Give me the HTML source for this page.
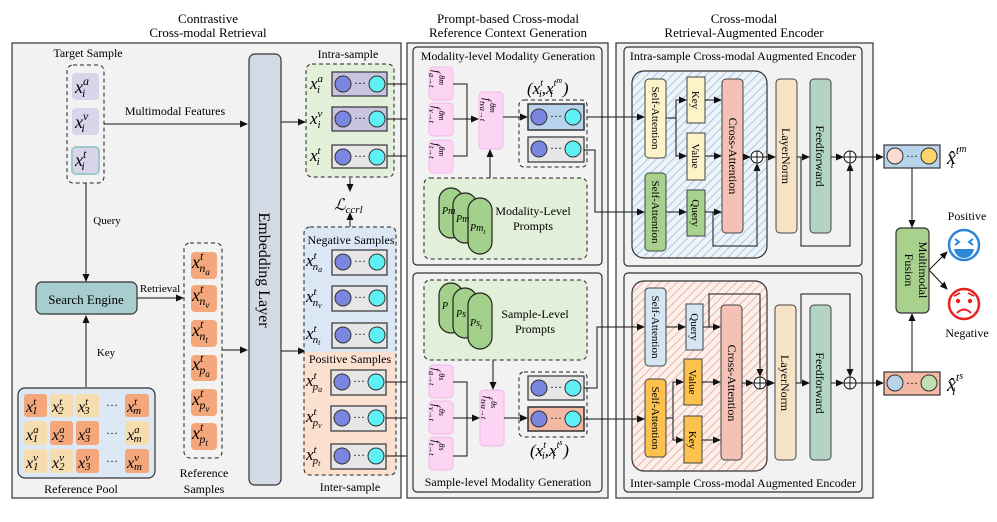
<!DOCTYPE html>
<html><head><meta charset="utf-8"><style>
html,body{margin:0;padding:0;background:#fff;}
svg{display:block;font-family:"Liberation Serif",serif;}
.m{font-style:italic;}
</style></head><body>
<svg width="997" height="522" viewBox="0 0 997 522" xmlns="http://www.w3.org/2000/svg">
<defs>
<marker id="a" markerWidth="8" markerHeight="8" refX="7" refY="4" orient="auto" markerUnits="userSpaceOnUse"><path d="M0,0.5 L8,4 L0,7.5z" fill="#111"/></marker>
<pattern id="hb" width="6" height="6" patternUnits="userSpaceOnUse" patternTransform="rotate(45)"><rect width="6" height="6" fill="#eef3f8"/><line x1="0" y1="0" x2="0" y2="6" stroke="#a9c8e6" stroke-width="2"/></pattern>
<pattern id="hr" width="6" height="6" patternUnits="userSpaceOnUse" patternTransform="rotate(45)"><rect width="6" height="6" fill="#faf0ec"/><line x1="0" y1="0" x2="0" y2="6" stroke="#f0b3a2" stroke-width="2"/></pattern>
<g id="cc"><circle cx="11" cy="12" r="8" fill="#7b86e0" stroke="#333" stroke-width="1"/><text x="28" y="15" font-size="12" text-anchor="middle">···</text><circle cx="45" cy="12" r="8" fill="#5ff0f5" stroke="#333" stroke-width="1"/></g>
</defs>
<rect width="997" height="522" fill="#fff"/>

<!-- Panel 1 -->
<text x="208" y="23" font-size="13" text-anchor="middle">Contrastive</text>
<text x="208" y="37" font-size="13" text-anchor="middle">Cross-modal Retrieval</text>
<rect x="12" y="43" width="389" height="455" fill="#f2f2f2" stroke="#333" stroke-width="1.2"/>
<text x="88" y="57" font-size="12" text-anchor="middle">Target Sample</text>
<rect x="67" y="65" width="37" height="118" rx="6" fill="none" stroke="#222" stroke-dasharray="4,3"/>
<rect x="72" y="73" width="27" height="27" rx="4" fill="#d9d4ea"/>
<rect x="72" y="108" width="27" height="27" rx="4" fill="#d9d4ea"/>
<rect x="72" y="147" width="27" height="27" rx="4" fill="#d9d4ea" stroke="#9ccbc9" stroke-width="2"/>
<text x="75" y="93" font-size="18" class="m">x<tspan font-size="12" dy="-8">a</tspan><tspan font-size="12" dx="-7" dy="12">i</tspan></text>
<text x="75" y="128" font-size="18" class="m">x<tspan font-size="12" dy="-8">v</tspan><tspan font-size="12" dx="-7" dy="12">i</tspan></text>
<text x="75" y="166" font-size="18" class="m">x<tspan font-size="12" dy="-8">t</tspan><tspan font-size="12" dx="-5" dy="12">i</tspan></text>
<line x1="104" y1="124" x2="247" y2="124" stroke="#111" marker-end="url(#a)"/>
<text x="175" y="115" font-size="12" text-anchor="middle">Multimodal Features</text>
<line x1="86" y1="183" x2="86" y2="281" stroke="#111" marker-end="url(#a)"/>
<text x="107" y="224" font-size="11" text-anchor="middle">Query</text>
<rect x="36" y="282" width="101" height="32" rx="6" fill="#a8cdcf" stroke="#333" stroke-width="1.2"/>
<text x="86" y="304" font-size="13" text-anchor="middle">Search Engine</text>
<line x1="137" y1="298" x2="183" y2="298" stroke="#111" marker-end="url(#a)"/>
<text x="160" y="292" font-size="11" text-anchor="middle">Retrieval</text>
<line x1="86" y1="387" x2="86" y2="316" stroke="#111" marker-end="url(#a)"/>
<text x="106" y="356" font-size="11" text-anchor="middle">Key</text>
<rect x="18" y="388" width="137" height="90" rx="7" fill="#dce8f4" stroke="#333" stroke-width="1.2"/>
<g font-size="16" class="m">
<rect x="24" y="394" width="23" height="23" rx="3" fill="#f4a77a"/><rect x="50" y="394" width="23" height="23" rx="3" fill="#f6ddb0"/><rect x="76" y="394" width="23" height="23" rx="3" fill="#f6ddb0"/><rect x="125" y="394" width="24" height="23" rx="3" fill="#f4a77a"/>
<rect x="24" y="421" width="23" height="24" rx="3" fill="#f6ddb0"/><rect x="50" y="421" width="23" height="24" rx="3" fill="#f4a77a"/><rect x="76" y="421" width="23" height="24" rx="3" fill="#f4a77a"/><rect x="125" y="421" width="24" height="24" rx="3" fill="#f6ddb0"/>
<rect x="24" y="449" width="23" height="24" rx="3" fill="#f6ddb0"/><rect x="50" y="449" width="23" height="24" rx="3" fill="#f6ddb0"/><rect x="76" y="449" width="23" height="24" rx="3" fill="#f4a77a"/><rect x="125" y="449" width="24" height="24" rx="3" fill="#f4a77a"/>
<text x="26" y="412">x<tspan font-size="11" dy="-7">t</tspan><tspan font-size="11" dx="-4" dy="9">1</tspan></text>
<text x="52" y="412">x<tspan font-size="11" dy="-7">t</tspan><tspan font-size="11" dx="-4" dy="9">2</tspan></text>
<text x="78" y="412">x<tspan font-size="11" dy="-7">t</tspan><tspan font-size="11" dx="-4" dy="9">3</tspan></text>
<text x="127" y="412">x<tspan font-size="11" dy="-7">t</tspan><tspan font-size="11" dx="-4" dy="9">m</tspan></text>
<text x="26" y="440">x<tspan font-size="11" dy="-7">a</tspan><tspan font-size="11" dx="-6" dy="9">1</tspan></text>
<text x="52" y="440">x<tspan font-size="11" dy="-7">a</tspan><tspan font-size="11" dx="-6" dy="9">2</tspan></text>
<text x="78" y="440">x<tspan font-size="11" dy="-7">a</tspan><tspan font-size="11" dx="-6" dy="9">3</tspan></text>
<text x="127" y="440">x<tspan font-size="11" dy="-7">a</tspan><tspan font-size="11" dx="-6" dy="9">m</tspan></text>
<text x="26" y="468">x<tspan font-size="11" dy="-7">v</tspan><tspan font-size="11" dx="-5" dy="9">1</tspan></text>
<text x="52" y="468">x<tspan font-size="11" dy="-7">v</tspan><tspan font-size="11" dx="-5" dy="9">2</tspan></text>
<text x="78" y="468">x<tspan font-size="11" dy="-7">v</tspan><tspan font-size="11" dx="-5" dy="9">3</tspan></text>
<text x="127" y="468">x<tspan font-size="11" dy="-7">v</tspan><tspan font-size="11" dx="-5" dy="9">m</tspan></text>
</g>
<text x="112" y="409" font-size="12" text-anchor="middle">···</text><text x="112" y="437" font-size="12" text-anchor="middle">···</text><text x="112" y="465" font-size="12" text-anchor="middle">···</text>
<text x="81" y="493" font-size="12" text-anchor="middle">Reference Pool</text>
<rect x="184" y="243" width="38" height="215" rx="6" fill="none" stroke="#222" stroke-dasharray="4,3"/>
<g font-size="18" class="m">
<rect x="191" y="252" width="26" height="27" rx="4" fill="#f4a77a"/><rect x="191" y="285" width="26" height="27" rx="4" fill="#f4a77a"/><rect x="191" y="320" width="26" height="27" rx="4" fill="#f4a77a"/><rect x="191" y="355" width="26" height="26" rx="4" fill="#f4a77a"/><rect x="191" y="389" width="26" height="27" rx="4" fill="#f4a77a"/><rect x="191" y="423" width="26" height="27" rx="4" fill="#f4a77a"/>
<text x="192" y="268">x<tspan font-size="12" dy="-8">t</tspan><tspan font-size="12" dx="-4" dy="12">n<tspan font-size="9" dy="3">a</tspan></tspan></text>
<text x="192" y="301">x<tspan font-size="12" dy="-8">t</tspan><tspan font-size="12" dx="-4" dy="12">n<tspan font-size="9" dy="3">v</tspan></tspan></text>
<text x="192" y="336">x<tspan font-size="12" dy="-8">t</tspan><tspan font-size="12" dx="-4" dy="12">n<tspan font-size="9" dy="3">t</tspan></tspan></text>
<text x="192" y="370">x<tspan font-size="12" dy="-8">t</tspan><tspan font-size="12" dx="-4" dy="12">p<tspan font-size="9" dy="3">a</tspan></tspan></text>
<text x="192" y="405">x<tspan font-size="12" dy="-8">t</tspan><tspan font-size="12" dx="-4" dy="12">p<tspan font-size="9" dy="3">v</tspan></tspan></text>
<text x="192" y="439">x<tspan font-size="12" dy="-8">t</tspan><tspan font-size="12" dx="-4" dy="12">p<tspan font-size="9" dy="3">t</tspan></tspan></text>
</g>
<text x="204" y="477" font-size="12" text-anchor="middle">Reference</text>
<text x="204" y="493" font-size="12" text-anchor="middle">Samples</text>
<line x1="222" y1="350" x2="247" y2="350" stroke="#111" marker-end="url(#a)"/>
<rect x="249" y="54" width="32" height="431" rx="6" fill="#d3dae6" stroke="#333" stroke-width="1.2"/>
<text transform="translate(259,270) rotate(90)" font-size="16" text-anchor="middle">Embedding Layer</text>
<line x1="281" y1="122" x2="305" y2="122" stroke="#111" marker-end="url(#a)"/>
<line x1="281" y1="351" x2="305" y2="351" stroke="#111" marker-end="url(#a)"/>
<text x="348" y="58" font-size="12" text-anchor="middle">Intra-sample</text>
<rect x="306" y="64" width="88" height="113" rx="6" fill="#e2efd9" stroke="#222" stroke-dasharray="4,3"/>
<rect x="332" y="72" width="55" height="24" fill="#c9c3df" stroke="#333" stroke-width="1.2"/><use href="#cc" x="332" y="72"/>
<rect x="332" y="107" width="55" height="24" fill="#c9c3df" stroke="#333" stroke-width="1.2"/><use href="#cc" x="332" y="107"/>
<rect x="332" y="145" width="55" height="23" fill="#e6e6e6" stroke="#333" stroke-width="1.2"/><use href="#cc" x="332" y="145"/>
<g font-size="17" class="m">
<text x="310" y="89">x<tspan font-size="11" dy="-7">a</tspan><tspan font-size="11" dx="-6" dy="11">i</tspan></text>
<text x="310" y="124">x<tspan font-size="11" dy="-7">v</tspan><tspan font-size="11" dx="-5" dy="11">i</tspan></text>
<text x="310" y="161">x<tspan font-size="11" dy="-7">t</tspan><tspan font-size="11" dx="-4" dy="11">i</tspan></text>
</g>
<line x1="350" y1="178" x2="350" y2="191" stroke="#111" marker-end="url(#a)"/>
<text x="334" y="210" font-size="16" class="m">ℒ<tspan font-size="11" dy="3">ccrl</tspan></text>
<line x1="350" y1="227" x2="350" y2="213" stroke="#111" marker-end="url(#a)"/>
<rect x="304" y="227" width="92" height="125" fill="#dbe7f5"/>
<rect x="304" y="352" width="92" height="123" fill="#fbe0d0"/>
<rect x="304" y="227" width="92" height="248" rx="6" fill="none" stroke="#222" stroke-dasharray="4,3"/>
<text x="351" y="244" font-size="12" text-anchor="middle">Negative Samples</text>
<text x="350" y="363" font-size="12" text-anchor="middle">Positive Samples</text>
<rect x="332" y="250" width="55" height="25" fill="#e6e6e6" stroke="#333" stroke-width="1.2"/><use href="#cc" x="332" y="250"/>
<rect x="332" y="286" width="55" height="25" fill="#e6e6e6" stroke="#333" stroke-width="1.2"/><use href="#cc" x="332" y="286"/>
<rect x="332" y="323" width="55" height="25" fill="#e6e6e6" stroke="#333" stroke-width="1.2"/><use href="#cc" x="332" y="323"/>
<rect x="331" y="370" width="55" height="25" fill="#e6e6e6" stroke="#333" stroke-width="1.2"/><use href="#cc" x="331" y="370"/>
<rect x="331" y="406" width="55" height="25" fill="#e6e6e6" stroke="#333" stroke-width="1.2"/><use href="#cc" x="331" y="406"/>
<rect x="331" y="444" width="55" height="25" fill="#e6e6e6" stroke="#333" stroke-width="1.2"/><use href="#cc" x="331" y="444"/>
<g font-size="17" class="m">
<text x="306" y="266">x<tspan font-size="11" dy="-7">t</tspan><tspan font-size="11" dx="-4" dy="11">n<tspan font-size="8" dy="2">a</tspan></tspan></text>
<text x="306" y="302">x<tspan font-size="11" dy="-7">t</tspan><tspan font-size="11" dx="-4" dy="11">n<tspan font-size="8" dy="2">v</tspan></tspan></text>
<text x="306" y="339">x<tspan font-size="11" dy="-7">t</tspan><tspan font-size="11" dx="-4" dy="11">n<tspan font-size="8" dy="2">t</tspan></tspan></text>
<text x="306" y="386">x<tspan font-size="11" dy="-7">t</tspan><tspan font-size="11" dx="-4" dy="11">p<tspan font-size="8" dy="2">a</tspan></tspan></text>
<text x="306" y="422">x<tspan font-size="11" dy="-7">t</tspan><tspan font-size="11" dx="-4" dy="11">p<tspan font-size="8" dy="2">v</tspan></tspan></text>
<text x="306" y="460">x<tspan font-size="11" dy="-7">t</tspan><tspan font-size="11" dx="-4" dy="11">p<tspan font-size="8" dy="2">t</tspan></tspan></text>
</g>
<text x="350" y="491" font-size="12" text-anchor="middle">Inter-sample</text>

<g stroke="#111" fill="none">
<line x1="387" y1="84" x2="427" y2="84" marker-end="url(#a)"/>
<line x1="387" y1="119" x2="427" y2="119" marker-end="url(#a)"/>
<line x1="387" y1="156" x2="427" y2="156" marker-end="url(#a)"/>
<line x1="386" y1="382" x2="427" y2="382" marker-end="url(#a)"/>
<line x1="386" y1="418" x2="427" y2="418" marker-end="url(#a)"/>
<line x1="386" y1="456" x2="427" y2="456" marker-end="url(#a)"/>
</g>

<!-- Panel 2 -->
<text x="508" y="23" font-size="13" text-anchor="middle">Prompt-based Cross-modal</text>
<text x="508" y="37" font-size="13" text-anchor="middle">Reference Context Generation</text>
<rect x="407" y="43" width="201" height="455" fill="#f2f2f2" stroke="#333" stroke-width="1.2"/>
<rect x="413" y="47" width="189" height="218" rx="4" fill="#f2f2f2" stroke="#333" stroke-width="1.2"/>
<text x="508" y="60" font-size="12" text-anchor="middle">Modality-level  Modality Generation</text>
<rect x="413" y="273" width="189" height="219" rx="4" fill="#f2f2f2" stroke="#333" stroke-width="1.2"/>
<g fill="#fbd5f3" stroke="#f3b8ea">
<rect x="429" y="67" width="24" height="33" rx="4"/><rect x="429" y="103" width="24" height="33" rx="4"/><rect x="429" y="140" width="24" height="33" rx="4"/>
<rect x="479" y="92" width="24" height="57" rx="4"/>
<rect x="429" y="365" width="24" height="33" rx="4"/><rect x="429" y="401" width="24" height="33" rx="4"/><rect x="429" y="437" width="24" height="33" rx="4"/>
<rect x="480" y="390" width="24" height="56" rx="4"/>
</g>
<g font-size="11" class="m">
<text transform="translate(433,70) rotate(90)">f<tspan dy="4" font-size="8">a→t</tspan><tspan dx="-12" dy="-10" font-size="8">θm</tspan></text>
<text transform="translate(433,106) rotate(90)">f<tspan dy="4" font-size="8">v→t</tspan><tspan dx="-12" dy="-10" font-size="8">θm</tspan></text>
<text transform="translate(433,143) rotate(90)">f<tspan dy="4" font-size="8">t→t</tspan><tspan dx="-12" dy="-10" font-size="8">θm</tspan></text>
<text transform="translate(484,98) rotate(90)">f<tspan dy="4" font-size="8">tva→t</tspan><tspan dx="-18" dy="-10" font-size="8">θm</tspan></text>
<text transform="translate(433,368) rotate(90)">f<tspan dy="4" font-size="8">a→t</tspan><tspan dx="-12" dy="-10" font-size="8">θs</tspan></text>
<text transform="translate(433,404) rotate(90)">f<tspan dy="4" font-size="8">v→t</tspan><tspan dx="-12" dy="-10" font-size="8">θs</tspan></text>
<text transform="translate(433,440) rotate(90)">f<tspan dy="4" font-size="8">t→t</tspan><tspan dx="-12" dy="-10" font-size="8">θs</tspan></text>
<text transform="translate(485,396) rotate(90)">f<tspan dy="4" font-size="8">tva→t</tspan><tspan dx="-18" dy="-10" font-size="8">θs</tspan></text>
</g>
<g stroke="#111" fill="none">
<polyline points="453,84 467,84 467,156 453,156"/>
<line x1="453" y1="119" x2="478" y2="119" marker-end="url(#a)"/>
<line x1="503" y1="117" x2="527" y2="117" marker-end="url(#a)"/>
<line x1="490" y1="178" x2="490" y2="150" marker-end="url(#a)"/>
<polyline points="453,382 467,382 467,456 453,456"/>
<line x1="453" y1="418" x2="479" y2="418" marker-end="url(#a)"/>
<line x1="504" y1="418" x2="527" y2="418" marker-end="url(#a)"/>
<line x1="493" y1="360" x2="493" y2="389" marker-end="url(#a)"/>
</g>
<rect x="519" y="100" width="68" height="67" rx="5" fill="none" stroke="#222" stroke-dasharray="4,3"/>
<rect x="528" y="104" width="56" height="26" fill="#b8d4ec" stroke="#333" stroke-width="1.5"/><use href="#cc" x="528" y="105"/>
<rect x="528" y="137" width="56" height="25" fill="#e6e6e6" stroke="#333" stroke-width="1.2"/><use href="#cc" x="528" y="137"/>
<text x="527" y="94" font-size="17" class="m">(x<tspan font-size="10" dy="-8">t</tspan><tspan font-size="10" dx="-4" dy="11">i</tspan><tspan dy="-3">,x</tspan><tspan font-size="10" dy="-8">t</tspan><tspan font-size="8" dy="-3">m</tspan><tspan font-size="10" dx="-12" dy="14">i</tspan><tspan dx="10" dy="-3">)</tspan></text>
<rect x="424" y="178" width="163" height="81" rx="6" fill="#e2efd9" stroke="#222" stroke-dasharray="4,3"/>
<g fill="#a3d08a" stroke="#222" stroke-width="1.2">
<rect x="439" y="188" width="24" height="50" rx="12"/><rect x="453" y="193" width="24" height="50" rx="12"/><rect x="468" y="198" width="24" height="56" rx="12"/>
</g>
<g font-size="10" class="m"><text x="442" y="214">Pm</text><text x="456" y="222">Pm</text><text x="470" y="231">Pm<tspan font-size="7" dy="3">t</tspan></text></g>
<text x="533" y="215" font-size="12" text-anchor="middle">Modality-Level</text>
<text x="533" y="230" font-size="12" text-anchor="middle">Prompts</text>
<rect x="424" y="280" width="163" height="80" rx="6" fill="#e2efd9" stroke="#222" stroke-dasharray="4,3"/>
<g fill="#a3d08a" stroke="#222" stroke-width="1.2">
<rect x="439" y="283" width="24" height="50" rx="12"/><rect x="453" y="288" width="24" height="50" rx="12"/><rect x="468" y="293" width="24" height="56" rx="12"/>
</g>
<g font-size="10" class="m"><text x="442" y="309">P</text><text x="456" y="317">Ps</text><text x="470" y="326">Ps<tspan font-size="7" dy="3">t</tspan></text></g>
<text x="535" y="318" font-size="12" text-anchor="middle">Sample-Level</text>
<text x="535" y="333" font-size="12" text-anchor="middle">Prompts</text>
<rect x="519" y="372" width="68" height="65" rx="5" fill="none" stroke="#222" stroke-dasharray="4,3"/>
<rect x="528" y="376" width="56" height="24" fill="#e6e6e6" stroke="#333" stroke-width="1.2"/><use href="#cc" x="528" y="376"/>
<rect x="528" y="407" width="56" height="24" fill="#f4b9a4" stroke="#333" stroke-width="1.5"/><use href="#cc" x="528" y="407"/>
<text x="530" y="456" font-size="17" class="m">(x<tspan font-size="10" dy="-8">t</tspan><tspan font-size="10" dx="-4" dy="11">i</tspan><tspan dy="-3">,x</tspan><tspan font-size="10" dy="-8">t</tspan><tspan font-size="8" dy="-3">s</tspan><tspan font-size="10" dx="-10" dy="14">i</tspan><tspan dx="8" dy="-3">)</tspan></text>
<text x="508" y="486" font-size="12" text-anchor="middle">Sample-level Modality Generation</text>

<!-- Panel 3 -->
<text x="744" y="23" font-size="13" text-anchor="middle">Cross-modal</text>
<text x="744" y="37" font-size="13" text-anchor="middle">Retrieval-Augmented Encoder</text>
<rect x="616" y="43" width="257" height="455" fill="#f2f2f2" stroke="#333" stroke-width="1.2"/>
<rect x="624" y="47" width="238" height="219" rx="4" fill="#f2f2f2" stroke="#333" stroke-width="1.2"/>
<text x="743" y="60" font-size="12" text-anchor="middle">Intra-sample Cross-modal Augmented Encoder</text>
<rect x="632" y="71" width="135" height="187" rx="12" fill="url(#hb)" stroke="#333" stroke-width="1.2"/>
<rect x="624" y="273" width="238" height="219" rx="4" fill="#f2f2f2" stroke="#333" stroke-width="1.2"/>
<text x="743" y="487" font-size="12" text-anchor="middle">Inter-sample Cross-modal Augmented Encoder</text>
<rect x="632" y="281" width="135" height="190" rx="12" fill="url(#hr)" stroke="#333" stroke-width="1.2"/>
<g stroke="#444" stroke-width="1">
<rect x="645" y="79" width="21" height="79" rx="4" fill="#fdf2c8"/>
<rect x="687" y="77" width="18" height="46" fill="#fdf2c8"/>
<rect x="687" y="133" width="18" height="47" fill="#fdf2c8"/>
<rect x="722" y="79" width="21" height="154" rx="4" fill="#f4c2b5"/>
<rect x="645" y="173" width="21" height="78" rx="4" fill="#a9d18e"/>
<rect x="687" y="190" width="18" height="46" fill="#a9d18e"/>
<rect x="776" y="79" width="21" height="154" rx="4" fill="#f6e3c5"/>
<rect x="810" y="79" width="21" height="154" rx="4" fill="#b3d4c2"/>
<rect x="645" y="288" width="21" height="78" rx="4" fill="#d6e5f4"/>
<rect x="686" y="304" width="17" height="46" fill="#d6e5f4"/>
<rect x="684" y="359" width="18" height="46" fill="#fdc24e"/>
<rect x="684" y="416" width="18" height="47" fill="#fdc24e"/>
<rect x="645" y="379" width="21" height="78" rx="4" fill="#fdc24e"/>
<rect x="721" y="305" width="21" height="155" rx="4" fill="#f4c2b5"/>
<rect x="775" y="305" width="21" height="155" rx="4" fill="#f6e3c5"/>
<rect x="810" y="305" width="21" height="155" rx="4" fill="#b3d4c2"/>
</g>
<g font-size="11">
<text transform="translate(652,118) rotate(90)" text-anchor="middle">Self-Attention</text>
<text transform="translate(692,100) rotate(90)" text-anchor="middle">Key</text>
<text transform="translate(692,156) rotate(90)" text-anchor="middle">Value</text>
<text transform="translate(729,156) rotate(90)" text-anchor="middle" font-size="12">Cross-Attention</text>
<text transform="translate(652,212) rotate(90)" text-anchor="middle">Self-Attention</text>
<text transform="translate(692,213) rotate(90)" text-anchor="middle">Query</text>
<text transform="translate(782,156) rotate(90)" text-anchor="middle" font-size="12">LayerNorm</text>
<text transform="translate(816,156) rotate(90)" text-anchor="middle" font-size="12">Feedforward</text>
<text transform="translate(652,327) rotate(90)" text-anchor="middle">Self-Attention</text>
<text transform="translate(691,327) rotate(90)" text-anchor="middle">Query</text>
<text transform="translate(689,382) rotate(90)" text-anchor="middle">Value</text>
<text transform="translate(689,440) rotate(90)" text-anchor="middle">Key</text>
<text transform="translate(652,418) rotate(90)" text-anchor="middle">Self-Attention</text>
<text transform="translate(728,383) rotate(90)" text-anchor="middle" font-size="12">Cross-Attention</text>
<text transform="translate(781,383) rotate(90)" text-anchor="middle" font-size="12">LayerNorm</text>
<text transform="translate(816,383) rotate(90)" text-anchor="middle" font-size="12">Feedforward</text>
</g>
<g stroke="#111" fill="none">
<line x1="587" y1="117" x2="644" y2="117" marker-end="url(#a)"/>
<polyline points="584,150 595,150 595,212 644,212" marker-end="url(#a)"/>
<polyline points="584,388 597,388 597,327 644,327" marker-end="url(#a)"/>
<line x1="584" y1="419" x2="644" y2="419" marker-end="url(#a)"/>
<polyline points="666,118 676,118 676,100 686,100" marker-end="url(#a)"/>
<polyline points="676,118 676,156 686,156" marker-end="url(#a)"/>
<line x1="705" y1="100" x2="721" y2="100" marker-end="url(#a)"/>
<line x1="705" y1="156" x2="721" y2="156" marker-end="url(#a)"/>
<line x1="666" y1="212" x2="686" y2="212" marker-end="url(#a)"/>
<line x1="705" y1="212" x2="721" y2="212" marker-end="url(#a)"/>
<line x1="743" y1="157" x2="750" y2="157" marker-end="url(#a)"/>
<polyline points="713,212 713,246 757,246 757,164" marker-end="url(#a)"/>
<line x1="763" y1="157" x2="775" y2="157" marker-end="url(#a)"/>
<line x1="797" y1="157" x2="809" y2="157" marker-end="url(#a)"/>
<polyline points="801,157 801,246 850,246 850,164" marker-end="url(#a)"/>
<line x1="831" y1="157" x2="843" y2="157" marker-end="url(#a)"/>
<line x1="856" y1="157" x2="883" y2="157" marker-end="url(#a)"/>
<line x1="666" y1="327" x2="685" y2="327" marker-end="url(#a)"/>
<line x1="703" y1="327" x2="720" y2="327" marker-end="url(#a)"/>
<polyline points="709,327 709,294 760,294 760,376" marker-end="url(#a)"/>
<polyline points="666,418 673,418 673,382 683,382" marker-end="url(#a)"/>
<polyline points="673,418 673,440 683,440" marker-end="url(#a)"/>
<line x1="702" y1="382" x2="720" y2="382" marker-end="url(#a)"/>
<line x1="702" y1="440" x2="720" y2="440" marker-end="url(#a)"/>
<line x1="742" y1="383" x2="753" y2="383" marker-end="url(#a)"/>
<line x1="766" y1="383" x2="774" y2="383" marker-end="url(#a)"/>
<line x1="796" y1="383" x2="809" y2="383" marker-end="url(#a)"/>
<polyline points="801,383 801,294 850,294 850,376" marker-end="url(#a)"/>
<line x1="831" y1="383" x2="843" y2="383" marker-end="url(#a)"/>
<line x1="856" y1="383" x2="883" y2="383" marker-end="url(#a)"/>
<line x1="912" y1="168" x2="912" y2="227" marker-end="url(#a)"/>
<line x1="912" y1="372" x2="912" y2="314" marker-end="url(#a)"/>
<line x1="929" y1="270" x2="947" y2="252" marker-end="url(#a)"/>
<line x1="929" y1="270" x2="947" y2="289" marker-end="url(#a)"/>
</g>
<g fill="#fff" stroke="#111">
<circle cx="757" cy="157" r="6"/><line x1="751" y1="157" x2="763" y2="157"/><line x1="757" y1="151" x2="757" y2="163"/>
<circle cx="850" cy="157" r="6"/><line x1="844" y1="157" x2="856" y2="157"/><line x1="850" y1="151" x2="850" y2="163"/>
<circle cx="760" cy="383" r="6"/><line x1="754" y1="383" x2="766" y2="383"/><line x1="760" y1="377" x2="760" y2="389"/>
<circle cx="850" cy="383" r="6"/><line x1="844" y1="383" x2="856" y2="383"/><line x1="850" y1="377" x2="850" y2="389"/>
</g>
<rect x="884" y="145" width="56" height="23" fill="#b8d4ec" stroke="#333" stroke-width="1.2"/>
<circle cx="895" cy="156" r="8" fill="#f9ddd3" stroke="#333"/><text x="912" y="160" font-size="12" text-anchor="middle">···</text><circle cx="929" cy="156" r="8" fill="#fbd56a" stroke="#333"/>
<rect x="884" y="372" width="56" height="23" fill="#f4b9a4" stroke="#333" stroke-width="1.2"/>
<circle cx="895" cy="383" r="8" fill="#b8d4ec" stroke="#333"/><text x="912" y="387" font-size="12" text-anchor="middle">···</text><circle cx="929" cy="383" r="8" fill="#bfe0b3" stroke="#333"/>
<text x="947" y="164" font-size="20" class="m">x̂<tspan font-size="12" dy="-10">t</tspan><tspan font-size="10" dy="-2">m</tspan><tspan font-size="12" dx="-16" dy="16">i</tspan></text>
<text x="947" y="391" font-size="20" class="m">x̂<tspan font-size="12" dy="-10">t</tspan><tspan font-size="10" dy="-2">s</tspan><tspan font-size="12" dx="-11" dy="16">i</tspan></text>
<rect x="896" y="228" width="33" height="85" rx="5" fill="#a9d18e" stroke="#333" stroke-width="1.2"/>
<text transform="translate(915,270) rotate(90)" font-size="12" text-anchor="middle"><tspan x="0" dy="-4">Multimodal</tspan><tspan x="0" dy="14">Fusion</tspan></text>
<text x="967" y="220" font-size="12" text-anchor="middle">Positive</text>
<text x="967" y="337" font-size="12" text-anchor="middle">Negative</text>
<circle cx="964" cy="245" r="15" fill="#fff" stroke="#2e86d6" stroke-width="2.5"/>
<path d="M955,239 l4,3 l-4,3 M973,239 l-4,3 l4,3" stroke="#2e86d6" stroke-width="2" fill="none"/>
<path d="M954,249 h20 q-2,9 -10,9 q-8,0 -10,-9z" fill="#2e86d6"/>
<circle cx="964" cy="304" r="15" fill="#fff" stroke="#e8221d" stroke-width="2.5"/>
<circle cx="958" cy="301" r="2.2" fill="#e8221d"/><circle cx="970" cy="301" r="2.2" fill="#e8221d"/>
<path d="M954,296 l6,-3 M974,296 l-6,-3" stroke="#e8221d" stroke-width="1.8"/>
<path d="M957,313 q7,-7 14,0" stroke="#e8221d" stroke-width="2" fill="none"/>
</svg>
</body></html>
